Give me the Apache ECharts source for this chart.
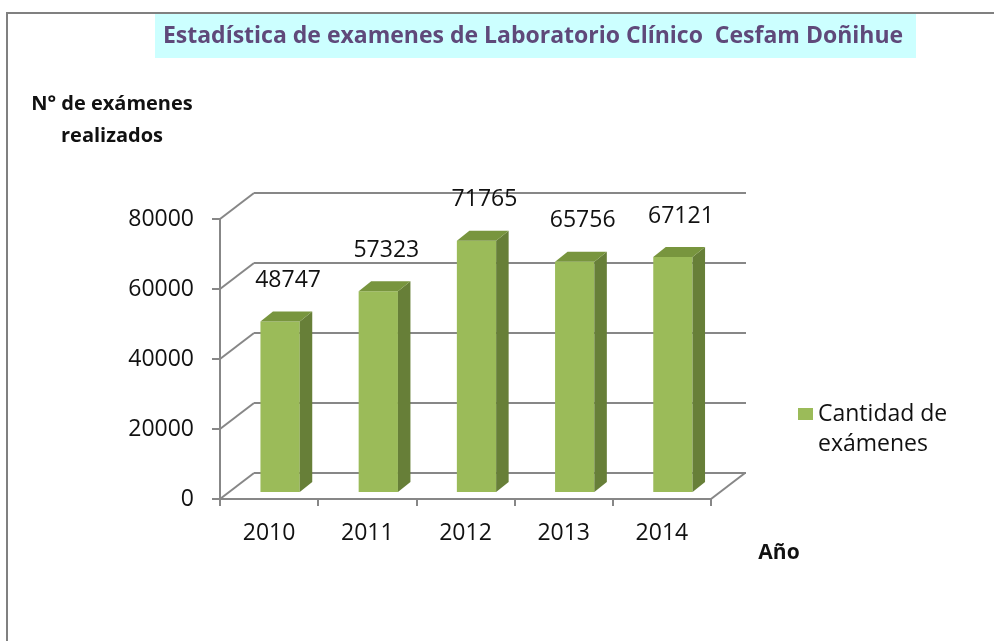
<!DOCTYPE html>
<html>
<head>
<meta charset="utf-8">
<title>Estadística de examenes</title>
<script src="https://cdn.jsdelivr.net/npm/echarts@6/dist/echarts.min.js"></script>
<style>
  html, body { margin: 0; padding: 0; background: #fff; }
  #main { width: 994px; height: 641px; }
</style>
</head>
<body>
<div id="main"></div>
<script>
// datos
var years = ['2010', '2011', '2012', '2013', '2014'];
var examCounts = [48747, 57323, 71765, 65756, 67121];
var yTicks = [0, 20000, 40000, 60000, 80000];
var seriesName = 'Cantidad de\nexámenes';

// estilo
var FONT = '"Open Sans", "Noto Sans", sans-serif';
var GRID_COLOR = '#878787';
var FRONT = '#9BBB59';
var SIDE = '#677F38';
var TOP = '#78953E';
var DEPTH_X = 34, DEPTH_Y = -26;      // profundidad del piso / pared
var BAR_DX = 12.5, BAR_DY = -10;      // profundidad de cada barra
var BAR_SHIFT = 11, BAR_LIFT = 7;     // plano frontal de las barras
var LABEL_DX = 8, LABEL_DY = -41;

var chart = echarts.init(document.getElementById('main'));

function renderWall(params, api) {
  var v = api.value(1);
  var p = api.coord([0, v]);
  var band = api.size([1, 0])[0];
  var left = p[0] - band / 2;
  var lineStyle = { stroke: GRID_COLOR, lineWidth: 2 };
  var kids = [{
    type: 'line',
    shape: { x1: left, y1: p[1], x2: left + DEPTH_X, y2: p[1] + DEPTH_Y },
    style: lineStyle
  }];
  if (v === 0) {
    var right = left + band * years.length;
    kids.push({
      type: 'line',
      shape: { x1: right, y1: p[1], x2: right + DEPTH_X, y2: p[1] + DEPTH_Y },
      style: lineStyle
    });
  }
  return { type: 'group', children: kids };
}

function renderBar(params, api) {
  var i = api.value(0), v = api.value(1);
  var base = api.coord([i, 0]);
  var top = api.coord([i, v]);
  var band = api.size([1, 0])[0];
  var w = band * 0.4;
  var x0 = base[0] + BAR_SHIFT - w / 2;
  var yb = base[1] - BAR_LIFT;
  var yt = top[1] - BAR_LIFT;
  return {
    type: 'group',
    children: [
      { type: 'rect', shape: { x: x0, y: yt, width: w, height: yb - yt }, style: { fill: FRONT } },
      {
        type: 'polygon',
        shape: { points: [[x0 + w, yt], [x0 + w + BAR_DX, yt + BAR_DY], [x0 + w + BAR_DX, yb + BAR_DY], [x0 + w, yb]] },
        style: { fill: SIDE }
      },
      {
        type: 'polygon',
        shape: { points: [[x0, yt], [x0 + BAR_DX, yt + BAR_DY], [x0 + w + BAR_DX, yt + BAR_DY], [x0 + w, yt]] },
        style: { fill: TOP }
      },
      {
        type: 'text',
        x: x0 + w / 2 + LABEL_DX,
        y: yt + LABEL_DY,
        style: {
          text: String(v), fill: '#111', font: '23px ' + FONT,
          align: 'center', verticalAlign: 'middle'
        }
      }
    ]
  };
}

var option = {
  backgroundColor: '#fff',
  animation: false,
  title: {
    text: 'Estadística de examenes de Laboratorio Clínico  Cesfam Doñihue',
    left: 533,
    top: 25,
    padding: 0,
    textAlign: 'center',
    textStyle: { fontFamily: FONT, fontSize: 23, fontWeight: 'bold', color: '#5F497A' }
  },
  legend: {
    data: [seriesName],
    left: 798,
    top: 399,
    padding: 0,
    // cuadrado arriba, para quedar alineado con la primera línea
    icon: 'path://M0,0h15v12h-15z M0,42h0.01v0.01h-0.01z',
    itemWidth: 15,
    itemHeight: 42,
    selectedMode: false,
    textStyle: { fontFamily: FONT, fontSize: 23, color: '#111', lineHeight: 30 }
  },
  grid: [
    { left: 220, right: 283, top: 219, bottom: 142 },
    { left: 254, right: 248, top: 193, bottom: 168 }
  ],
  xAxis: [
    {
      type: 'category', gridIndex: 0, data: years,
      axisLine: { lineStyle: { color: GRID_COLOR, width: 2 } },
      axisTick: { show: true, length: 7, lineStyle: { color: GRID_COLOR, width: 2 } },
      axisLabel: { fontFamily: FONT, fontSize: 23, color: '#111', margin: 23 }
    },
    { type: 'category', gridIndex: 1, data: years, show: false }
  ],
  yAxis: [
    {
      type: 'value', gridIndex: 0, min: 0, max: 80000, interval: 20000,
      axisLine: { show: true, lineStyle: { color: GRID_COLOR, width: 2 } },
      axisTick: { show: true, length: 8, lineStyle: { color: GRID_COLOR, width: 2 } },
      axisLabel: {
        fontFamily: FONT, fontSize: 23, color: '#111', margin: 26,
        formatter: function (v) { return String(v); }
      },
      splitLine: { show: false }
    },
    {
      type: 'value', gridIndex: 1, min: 0, max: 80000, interval: 20000,
      axisLine: { show: false }, axisTick: { show: false }, axisLabel: { show: false },
      splitLine: { show: true, lineStyle: { color: GRID_COLOR, width: 2 } }
    }
  ],
  graphic: [
    { type: 'rect', shape: { x: 7, y: 13, width: 1000, height: 700 }, style: { fill: null, stroke: '#808080', lineWidth: 2 }, z: -10 },
    { type: 'rect', shape: { x: 155, y: 14, width: 761, height: 44 }, style: { fill: '#CCFFFF' }, z: -5 },
    {
      type: 'text', x: 112, y: 120,
      style: {
        text: 'N° de exámenes\nrealizados', fill: '#111', font: 'bold 20px ' + FONT,
        lineHeight: 32, align: 'center', verticalAlign: 'middle'
      }
    },
    {
      type: 'text', x: 779, y: 553,
      style: { text: 'Año', fill: '#111', font: 'bold 21px ' + FONT, align: 'center', verticalAlign: 'middle' }
    }
  ],
  series: [
    {
      type: 'custom',
      name: 'pared',
      xAxisIndex: 0, yAxisIndex: 0,
      renderItem: renderWall,
      encode: { x: 0, y: 1 },
      data: yTicks.map(function (v) { return [0, v]; }),
      silent: true,
      z: 1
    },
    {
      type: 'custom',
      name: seriesName,
      xAxisIndex: 0, yAxisIndex: 0,
      renderItem: renderBar,
      encode: { x: 0, y: 1 },
      itemStyle: { color: FRONT },
      data: years.map(function (y, i) { return [i, examCounts[i]]; }),
      z: 3
    }
  ]
};

chart.setOption(option);
</script>
</body>
</html>
